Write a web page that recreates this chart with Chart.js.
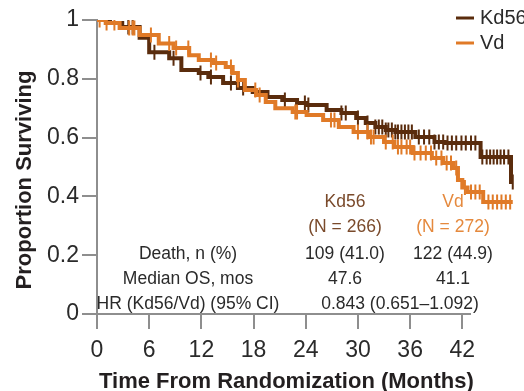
<!DOCTYPE html>
<html>
<head>
<meta charset="utf-8">
<script src="https://cdn.jsdelivr.net/npm/chart.js@4"></script>
<style>
  html, body { margin: 0; padding: 0; background: #fff; }
  #wrap { width: 524px; height: 391px; }
</style>
</head>
<body>
<div id="wrap"><canvas id="osChart" width="524" height="391"></canvas></div>
<script>
// Kaplan-Meier curves (months, proportion surviving)
const kdTime = [0, 1.5, 2.9, 4.9, 6.0, 8.3, 9.7, 11.7, 12.8, 14.5, 16.2, 17.9, 19.6, 21.3, 23.0, 24.1, 26.4, 28.1, 29.8, 30.9, 32.0, 33.2, 34.3, 36.6, 38.8, 40.0, 44.1, 47.6, 47.8];
const kdSurv = [1.0, 0.99, 0.976, 0.94, 0.89, 0.87, 0.83, 0.82, 0.806, 0.786, 0.769, 0.755, 0.738, 0.728, 0.718, 0.711, 0.694, 0.684, 0.667, 0.65, 0.636, 0.626, 0.619, 0.602, 0.585, 0.582, 0.534, 0.449, 0.449];
const vdTime = [0, 1.0, 2.6, 4.9, 7.1, 8.8, 10.6, 11.7, 13.4, 14.8, 15.6, 16.2, 17.0, 18.3, 19.4, 20.5, 22.5, 24.1, 26.0, 27.8, 29.5, 31.2, 33.0, 34.2, 36.3, 38.5, 39.8, 41.0, 41.5, 42.0, 42.6, 44.4, 47.8];
const vdSurv = [1.0, 0.99, 0.973, 0.949, 0.92, 0.905, 0.88, 0.864, 0.854, 0.84, 0.82, 0.796, 0.762, 0.745, 0.721, 0.70, 0.687, 0.677, 0.66, 0.636, 0.619, 0.602, 0.585, 0.568, 0.548, 0.531, 0.514, 0.497, 0.456, 0.43, 0.415, 0.381, 0.381];

// censoring times (months)
const kdCensor = [3.6, 4.1, 6.6, 8.8, 11.9, 13.1, 15.4, 16.8, 21.6, 23.9, 24.3, 28.1, 28.6, 30.0, 31.1, 32.0, 32.4, 32.8, 33.2, 33.5, 33.9, 34.3, 34.6, 35.0, 35.4, 35.8, 36.2, 37.0, 37.6, 38.2, 38.8, 39.3, 39.8, 40.3, 40.8, 41.3, 41.9, 42.4, 43.0, 43.5, 44.3, 44.8, 45.2, 45.6, 46.0, 46.4, 46.8, 47.3, 47.8];
const vdCensor = [0.3, 1.1, 2.0, 3.7, 4.1, 4.3, 6.2, 8.3, 9.1, 10.5, 13.1, 13.7, 15.4, 16.2, 18.2, 18.7, 22.8, 23.0, 26.9, 27.3, 30.0, 31.1, 31.5, 31.8, 33.2, 34.0, 34.6, 35.0, 35.6, 36.0, 36.5, 37.2, 37.8, 38.4, 39.0, 39.6, 40.2, 40.7, 41.3, 42.3, 43.0, 43.5, 44.0, 45.0, 45.5, 46.0, 46.5, 47.0, 47.5];

const xTicks = [0, 6, 12, 18, 24, 30, 36, 42];
const yTicks = [0, 0.2, 0.4, 0.6, 0.8, 1];

const seriesNames = ['Kd56', 'Vd'];
const tableRows = ['Death, n (%)', 'Median OS, mos', 'HR (Kd56/Vd) (95% CI)'];
const nLabels = ['(N = 266)', '(N = 272)'];
const deaths = ['109 (41.0)', '122 (44.9)'];
const medianOS = ['47.6', '41.1'];
const hrText = '0.843 (0.651\u20131.092)';

const BROWN = '#5a2c0d';
const ORANGE = '#e07a27';
const BROWN_TXT = '#7a4a2b';
const ORANGE_TXT = '#e5893d';
const AXIS = '#8e8e8e';
const TXT = '#2a2a2a';
const FONT = "'Liberation Sans', Arial, sans-serif";

const toPoints = (t, s) => t.map((v, i) => ({ x: v, y: s[i] }));

// survival value at time t on a step curve
const survAt = (t, s, time) => {
    let v = s[0];
    for (let i = 0; i < t.length; i++) {
        if (t[i] <= time) v = s[i];
    }
    return v;
};

const censorPoints = (c, t, s) => c.map(v => ({ x: v, y: survAt(t, s, v) }));

const overlay = {
    id: 'overlay',
    afterDraw(chart) {
        const c = chart.ctx;
        const xs = chart.scales.x;
        const ys = chart.scales.y;
        c.save();

        // x axis line (stops a little after 42)
        c.strokeStyle = AXIS;
        c.lineWidth = 2;
        c.beginPath();
        c.moveTo(xs.getPixelForValue(0) - 15, ys.getPixelForValue(0));
        c.lineTo(xs.getPixelForValue(43), ys.getPixelForValue(0));
        c.stroke();

        // axis titles
        c.fillStyle = '#231f20';
        c.font = 'bold 22px ' + FONT;
        c.textAlign = 'left';
        c.textBaseline = 'alphabetic';
        c.fillText('Time From Randomization (Months)', 99, 388);
        c.save();
        c.translate(31, 180);
        c.rotate(-Math.PI / 2);
        c.textAlign = 'center';
        c.fillText('Proportion Surviving', 0, 0);
        c.restore();

        // legend
        const legColors = [BROWN, ORANGE];
        c.font = '20px ' + FONT;
        c.textBaseline = 'middle';
        c.textAlign = 'left';
        seriesNames.forEach((name, i) => {
            const y = 18 + i * 25;
            c.strokeStyle = legColors[i];
            c.lineWidth = 3;
            c.beginPath();
            c.moveTo(456, y);
            c.lineTo(474, y);
            c.stroke();
            c.fillStyle = TXT;
            c.fillText(name, 480, y);
        });

        // summary table
        c.font = '17.5px ' + FONT;
        c.textAlign = 'center';
        const colX = [345, 453];
        const txtColors = [BROWN_TXT, ORANGE_TXT];
        seriesNames.forEach((name, i) => {
            c.fillStyle = txtColors[i];
            c.fillText(name, colX[i], 202);
            c.fillText(nLabels[i], colX[i], 227);
            c.fillStyle = TXT;
            c.fillText(deaths[i], colX[i], 254);
            c.fillText(medianOS[i], colX[i], 279);
        });
        c.fillStyle = TXT;
        tableRows.forEach((r, i) => c.fillText(r, 188, 254 + i * 25));
        c.fillText(hrText, 400, 304);

        c.restore();
    }
};

const ctx = document.getElementById('osChart').getContext('2d');

new Chart(ctx, {
    type: 'line',
    data: {
        datasets: [
            {
                label: 'Vd censored',
                data: censorPoints(vdCensor, vdTime, vdSurv),
                showLine: false,
                pointStyle: 'line',
                rotation: 90,
                pointRadius: 7.5,
                pointBorderWidth: 2,
                borderColor: ORANGE,
                backgroundColor: ORANGE
            },
            {
                label: 'Vd',
                data: toPoints(vdTime, vdSurv),
                stepped: true,
                borderColor: ORANGE,
                borderWidth: 4,
                pointRadius: 0,
                fill: false
            },
            {
                label: 'Kd56 censored',
                data: censorPoints(kdCensor, kdTime, kdSurv),
                showLine: false,
                pointStyle: 'line',
                rotation: 90,
                pointRadius: 7.5,
                pointBorderWidth: 2,
                borderColor: BROWN,
                backgroundColor: BROWN
            },
            {
                label: 'Kd56',
                data: toPoints(kdTime, kdSurv),
                stepped: true,
                borderColor: BROWN,
                borderWidth: 4,
                pointRadius: 0,
                fill: false
            }
        ]
    },
    options: {
        responsive: false,
        animation: false,
        events: [],
        layout: { padding: { top: 20, right: 3, left: 0, bottom: 0 } },
        plugins: {
            legend: { display: false },
            tooltip: { enabled: false }
        },
        scales: {
            x: {
                type: 'linear',
                min: 0,
                max: 48,
                afterBuildTicks: (scale) => {
                    scale.ticks = xTicks.map(v => ({ value: v }));
                },
                afterFit: (scale) => { scale.height = 77; },
                border: { display: false },
                grid: {
                    drawOnChartArea: false,
                    drawTicks: true,
                    tickLength: 15,
                    color: AXIS,
                    lineWidth: 2
                },
                ticks: {
                    color: TXT,
                    font: { family: FONT, size: 23 },
                    padding: 8,
                    maxRotation: 0
                }
            },
            y: {
                min: 0,
                max: 1,
                afterBuildTicks: (scale) => {
                    scale.ticks = yTicks.map(v => ({ value: v }));
                },
                afterFit: (scale) => { scale.width = 97; },
                border: { display: true, color: AXIS, width: 2 },
                grid: {
                    drawOnChartArea: false,
                    drawTicks: true,
                    tickLength: 15,
                    color: AXIS,
                    lineWidth: 2
                },
                ticks: {
                    color: TXT,
                    font: { family: FONT, size: 23 },
                    padding: 3,
                    callback: (v) => String(v)
                }
            }
        }
    },
    plugins: [overlay]
});
</script>
</body>
</html>
